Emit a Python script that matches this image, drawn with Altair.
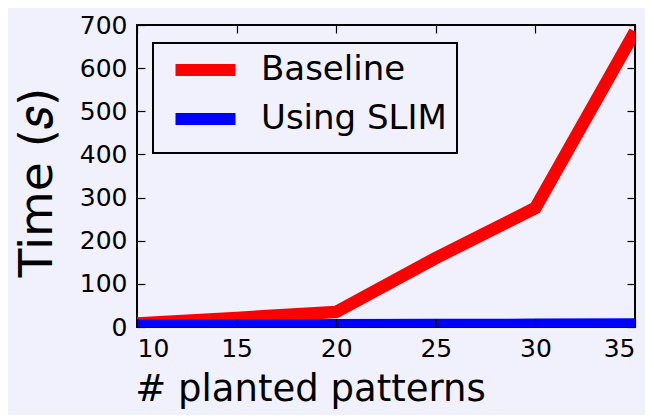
import altair as alt
import pandas as pd

x_vals = [10, 15, 20, 25, 30, 35]
baseline = [8, 21, 35, 160, 276, 685]
slim = [3, 3.5, 4, 4.5, 5, 6]
series_names = ["Baseline", "Using SLIM"]
series_colors = ["#ff0000", "#0000ff"]
x_ticks = [10, 15, 20, 25, 30, 35]
y_ticks = [0, 100, 200, 300, 400, 500, 600, 700]

rows = []
for xv, b in zip(x_vals, baseline):
    rows.append({"x": xv, "t": b, "series": "Baseline"})
for xv, s in zip(x_vals, slim):
    rows.append({"x": xv, "t": s, "series": "Using SLIM"})
df = pd.DataFrame(rows)

BG = "#f0f1fc"
FONT = "DejaVu Sans"
W, H = 498, 302

xscale = alt.Scale(domain=[10, 35], nice=False, zero=False)
yscale = alt.Scale(domain=[0, 700], nice=False)

lines = alt.Chart(df).mark_line(strokeWidth=12.5, clip=True).encode(
    x=alt.X("x:Q", scale=xscale, axis=alt.Axis(
        orient="bottom", values=x_ticks, offset=-8, tickSize=8, domain=False, grid=False,
        labelPadding=9, labelFontSize=25, labelFont=FONT, labelColor="black",
        tickColor="black", tickWidth=1.2, zindex=1,
        title="# planted patterns", titleFontSize=37, titleFont=FONT, titleFontWeight="normal",
        titleColor="black", titleX=173, titleY=81, titleAlign="center", titleBaseline="alphabetic")),
    y=alt.Y("t:Q", scale=yscale, axis=alt.Axis(
        orient="left", values=y_ticks, offset=-8, tickSize=8, domain=False, grid=False,
        labelPadding=10, labelFontSize=25, labelFont=FONT, labelColor="black",
        tickColor="black", tickWidth=1.2, zindex=1,
        title="Time (𝑠)", titleFontSize=47, titleFont=FONT, titleFontWeight="normal",
        titleColor="black", titleX=-94, titleY=157, titleAngle=-90,
        titleAlign="center", titleBaseline="alphabetic")),
    color=alt.Color("series:N", scale=alt.Scale(domain=series_names, range=series_colors),
                    legend=alt.Legend(
                        title=None, orient="none", legendX=16, legendY=18, direction="vertical",
                        strokeColor="black", padding=10, rowPadding=1,
                        labelFontSize=34, labelFont=FONT, labelColor="black", labelLimit=0,
                        symbolType="M-0.6,0H7.4", symbolStrokeWidth=12, symbolSize=225,
                        labelOffset=64)),
)

frame_axes = alt.Chart(df).mark_line(opacity=0).encode(
    x=alt.X("x:Q", scale=xscale, axis=alt.Axis(
        orient="top", values=x_ticks, offset=-8, tickSize=8, domain=False, grid=False,
        labels=False, title=None, tickColor="black", tickWidth=1.2, zindex=1)),
    y=alt.Y("t:Q", scale=yscale, axis=alt.Axis(
        orient="right", values=y_ticks, offset=-8, tickSize=8, domain=False, grid=False,
        labels=False, title=None, tickColor="black", tickWidth=1.2, zindex=1)),
    detail="series:N",
)

chart = alt.layer(lines, frame_axes).resolve_axis(x="independent", y="independent").properties(
    width=W, height=H, background=BG,
    autosize=alt.AutoSizeParams(type="none"),
    padding={"left": 129, "top": 17, "right": 10, "bottom": 88},
).configure_view(stroke="black", strokeWidth=2).configure_legend(strokeWidth=2)

chart.save("out.html", embed_options={"renderer": "svg", "actions": False})
